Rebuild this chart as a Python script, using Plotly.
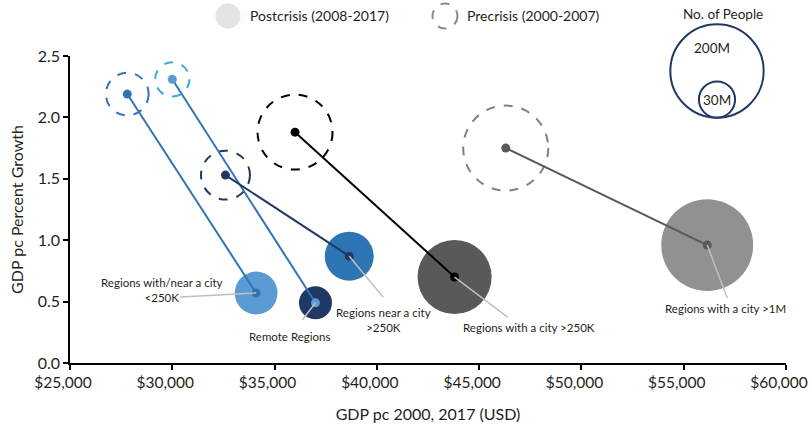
import numpy as np
import plotly.graph_objects as go

# ---------------- data ----------------
regions = ["Regions with/near a city <250K", "Remote Regions", "Regions near a city >250K",
           "Regions with a city >250K", "Regions with a city >1M"]
label_text = ["Regions with/near a city<br><250K", "Remote Regions", "Regions near a city<br>>250K",
              "Regions with a city >250K", "Regions with a city >1M"]
gdp_pre = [27800, 30000, 32600, 36000, 46300]
growth_pre = [2.19, 2.31, 1.53, 1.88, 1.75]
gdp_post = [34100, 37000, 38650, 43800, 56150]
growth_post = [0.57, 0.49, 0.87, 0.70, 0.96]
pop_pre = [42, 27, 55, 129, 166]      # millions
pop_post = [42, 25, 55, 126, 194]     # millions
legend_pop = [200, 30]
legend_pop_text = ["200M", "30M"]
x_ticks = [25000, 30000, 35000, 40000, 45000, 50000, 55000, 60000]
x_tick_text = ["$25,000", "$30,000", "$35,000", "$40,000", "$45,000", "$50,000", "$55,000", "$60,000"]
y_ticks = [0.0, 0.5, 1.0, 1.5, 2.0, 2.5]
y_tick_text = ["0.0", "0.5", "1.0", "1.5", "2.0", "2.5"]

# ---------------- styles ----------------
dot_colors = ["#2e75b6", "#5b9bd5", "#1f3864", "#000000", "#595959"]
line_colors = ["#2e75b6", "#2e75b6", "#1f3864", "#000000", "#595959"]
ring_colors = ["#2e75b6", "#3ea8e0", "#1f3864", "#000000", "#808080"]
fill_colors = ["#5b9bd5", "#1f3864", "#2e75b6", "#595959", "#919191"]
K = 6.6  # px per sqrt(million)
FONT = "Lato"
TXT = "#231f20"

def diam(p):
    return K * np.sqrt(p)

# leader line offsets (px, screen: right, down) and label offsets (px: right, up)
leader = [(-76, 4), (-13, 17), (34, 41), (53, 40), (20, 53)]
label_off = [(-94, 3), (-26, -34), (34, -64), (74, -50), (18, -63)]

fig = go.Figure()

# post-crisis filled circles
fig.add_trace(go.Scatter(
    x=gdp_post, y=growth_post, mode="markers",
    marker=dict(size=[diam(p) for p in pop_post], color=fill_colors, line=dict(width=0), opacity=1),
    hoverinfo="skip", showlegend=False))

# connecting lines
for i in range(len(regions)):
    fig.add_trace(go.Scatter(
        x=[gdp_pre[i], gdp_post[i]], y=[growth_pre[i], growth_post[i]], mode="lines",
        line=dict(color=line_colors[i], width=2), hoverinfo="skip", showlegend=False))

# center dots
fig.add_trace(go.Scatter(x=gdp_pre, y=growth_pre, mode="markers",
                         marker=dict(size=9, color=dot_colors), showlegend=False, hoverinfo="skip"))
fig.add_trace(go.Scatter(x=gdp_post, y=growth_post, mode="markers",
                         marker=dict(size=9, color=dot_colors), showlegend=False, hoverinfo="skip"))

shapes = []
# pre-crisis dashed circles
for i in range(len(regions)):
    r = diam(pop_pre[i]) / 2
    shapes.append(dict(type="circle", xref="x", yref="y", xsizemode="pixel", ysizemode="pixel",
                       xanchor=gdp_pre[i], yanchor=growth_pre[i], x0=-r, x1=r, y0=-r, y1=r,
                       line=dict(color=ring_colors[i], width=2, dash="dash"), layer="below"))
# leader lines
for i in range(len(regions)):
    dx, dy = leader[i]
    shapes.append(dict(type="line", xref="x", yref="y", xsizemode="pixel", ysizemode="pixel",
                       xanchor=gdp_post[i], yanchor=growth_post[i], x0=0, y0=0, x1=dx, y1=-dy,
                       line=dict(color="#bfbfbf", width=1.5), layer="above"))

annotations = []
for i in range(len(regions)):
    ox, oy = label_off[i]
    annotations.append(dict(x=gdp_post[i], y=growth_post[i], xref="x", yref="y", text=label_text[i],
                            showarrow=False, xshift=ox, yshift=oy, align="center",
                            xanchor="center", yanchor="middle",
                            font=dict(family=FONT, size=11.5, color=TXT)))

# top legend
plot_l, plot_r, plot_t, plot_b = 70, 786, 56, 363
def px(xp):
    return (xp - plot_l) / (plot_r - plot_l)
def py(yp):
    return (plot_b - yp) / (plot_b - plot_t)

def paper_note(x, y, text, xanchor="center", xshift=0, yshift=0, size=14):
    return dict(x=x, y=y, xref="paper", yref="paper", text=text, showarrow=False,
                xanchor=xanchor, yanchor="middle", xshift=xshift, yshift=yshift,
                font=dict(family=FONT, size=size, color=TXT))

shapes.append(dict(type="circle", xref="paper", yref="paper", xsizemode="pixel", ysizemode="pixel",
                   xanchor=px(228), yanchor=py(16), x0=-12.5, x1=12.5, y0=-12.5, y1=12.5,
                   fillcolor="#e3e3e3", line=dict(width=0)))
shapes.append(dict(type="circle", xref="paper", yref="paper", xsizemode="pixel", ysizemode="pixel",
                   xanchor=px(445), yanchor=py(16), x0=-12.5, x1=12.5, y0=-12.5, y1=12.5,
                   line=dict(color="#8c8c8c", width=2, dash="dash")))
annotations.append(paper_note(px(248), py(16), "Postcrisis (2008-2017)", xanchor="left"))
annotations.append(paper_note(px(465), py(16), "Precrisis (2000-2007)", xanchor="left"))

# size legend
D_big, D_small = diam(legend_pop[0]), diam(legend_pop[1])
cx, cy = px(717), py(71)
shapes.append(dict(type="circle", xref="paper", yref="paper", xsizemode="pixel", ysizemode="pixel",
                   xanchor=cx, yanchor=cy, x0=-D_big / 2, x1=D_big / 2, y0=-D_big / 2, y1=D_big / 2,
                   line=dict(color="#1f3864", width=2)))
shapes.append(dict(type="circle", xref="paper", yref="paper", xsizemode="pixel", ysizemode="pixel",
                   xanchor=cx, yanchor=cy, x0=-D_small / 2, x1=D_small / 2, y0=-D_big / 2, y1=-D_big / 2 + D_small,
                   line=dict(color="#1f3864", width=2)))
annotations.append(paper_note(px(723), py(14), "No. of People", size=13.5))
annotations.append(paper_note(cx, cy, legend_pop_text[0], xshift=-5, yshift=D_big / 2 - 24, size=13.5))
annotations.append(paper_note(cx, cy, legend_pop_text[1], yshift=-D_big / 2 + D_small / 2, size=13.5))

fig.update_layout(
    width=810, height=428,
    margin=dict(l=plot_l, r=810 - plot_r, t=plot_t, b=428 - plot_b, autoexpand=False),
    paper_bgcolor="white", plot_bgcolor="white",
    shapes=shapes, annotations=annotations, showlegend=False,
    font=dict(family=FONT, color=TXT),
    xaxis=dict(range=[25000, 60000], tickvals=x_ticks, ticktext=x_tick_text, automargin=False,
               showgrid=False, zeroline=False, showline=True, linecolor="black", linewidth=1.5,
               ticks="outside", ticklen=5, tickcolor="black", tickwidth=1.5,
               ticklabeloverflow="allow", ticklabelshift=-7,
               tickfont=dict(family=FONT, size=15.5, color=TXT),
               title=dict(text="GDP pc 2000, 2017 (USD)", font=dict(family=FONT, size=16, color=TXT), standoff=18)),
    yaxis=dict(range=[0, 2.5], tickvals=y_ticks, ticktext=y_tick_text, automargin=False,
               showgrid=False, zeroline=False, showline=True, linecolor="black", linewidth=1.5,
               ticks="outside", ticklen=5, tickcolor="black", tickwidth=1.5,
               tickfont=dict(family=FONT, size=16, color=TXT),
               title=dict(text="GDP pc Percent Growth", font=dict(family=FONT, size=16, color=TXT), standoff=10)),
)

post = ("document.documentElement.style.margin='0';"
        "document.body.style.margin='0';"
        "document.documentElement.style.overflow='hidden';"
        "document.body.style.overflow='hidden';"
        "document.querySelectorAll('.main-svg').forEach(function(s){s.style.overflow='hidden';});")
fig.write_html("out.html", config={"displayModeBar": False}, post_script=post)
